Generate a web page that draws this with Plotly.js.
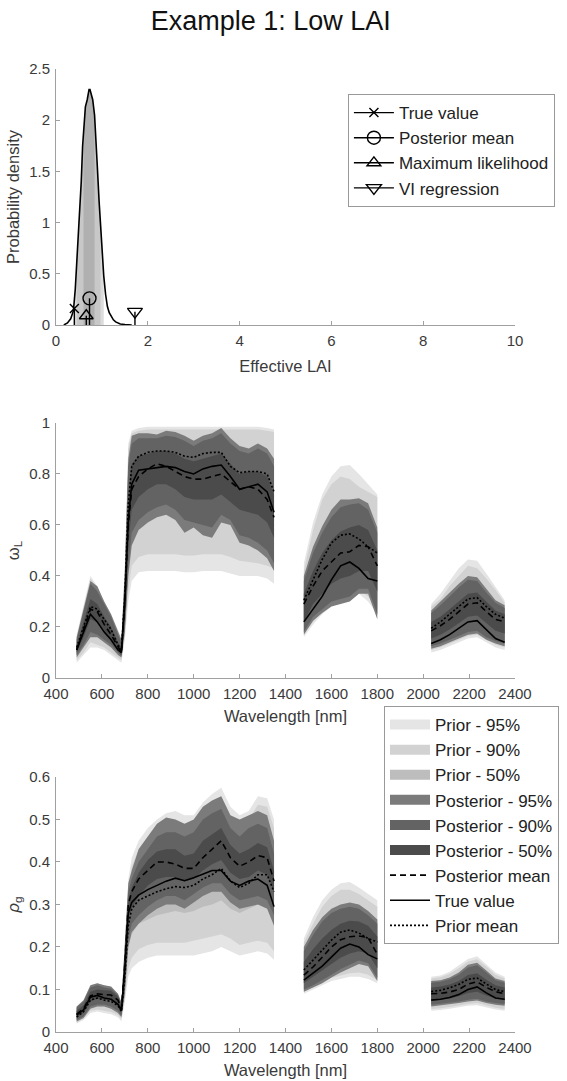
<!DOCTYPE html>
<html><head><meta charset="utf-8">
<script src="https://cdn.plot.ly/plotly-3.0.1.min.js"></script>
<style>html,body{margin:0;padding:0;background:#fff}#c{width:567px;height:1081px}</style>
</head><body><div id="c"></div>
<script>
// ---------- Top panel: posterior density of effective LAI ----------
const LAI_X = [0.17,0.25,0.32,0.38,0.42,0.45,0.48,0.51,0.55,0.58,0.6,0.62,0.64,0.68,0.72,0.74,0.77,0.8,0.84,0.86,0.9,0.94,0.97,1.0,1.04,1.08,1.12,1.16,1.21,1.25,1.3,1.4,1.5,1.65];
const LAI_PDF = [0,0.02,0.06,0.14,0.35,0.6,0.8,1.0,1.4,1.75,1.9,2.0,2.13,2.2,2.3,2.3,2.25,2.2,2.05,1.92,1.55,1.2,0.95,0.72,0.48,0.3,0.18,0.12,0.08,0.05,0.03,0.01,0.004,0];
const LAI_CI95 = [0.38,1.04];
const LAI_CI90 = [0.45,0.97];
const LAI_CI50 = [0.6,0.84];
const STEM_NAMES = ["True value","Posterior mean","Maximum likelihood","VI regression"];
const STEM_X = [0.40,0.73,0.66,1.72];
const STEM_H = [0.16,0.26,0.09,0.13];

// ---------- Spectral panels ----------
const WL = [490,520,550,580,610,640,670,685,700,715,730,760,800,840,880,920,960,1000,1040,1080,1120,1160,1200,1240,1280,1320,1350,null,
            1480,1520,1560,1600,1640,1680,1720,1760,1800,null,
            2035,2075,2115,2155,2195,2235,2275,2315,2355];

// omega_L
const W_TRUE = [0.11,0.18,0.25,0.22,0.18,0.15,0.11,0.10,0.30,0.62,0.76,0.815,0.82,0.825,0.83,0.825,0.81,0.80,0.82,0.83,0.835,0.79,0.74,0.75,0.76,0.73,0.65,null,
  0.22,0.27,0.32,0.385,0.44,0.455,0.43,0.39,0.38,null,
  0.135,0.15,0.17,0.195,0.22,0.225,0.19,0.155,0.14];
const W_POSTMEAN = [0.11,0.19,0.27,0.26,0.21,0.17,0.12,0.10,0.30,0.60,0.74,0.79,0.82,0.84,0.83,0.81,0.79,0.78,0.78,0.79,0.80,0.77,0.74,0.75,0.74,0.70,0.63,null,
  0.29,0.36,0.42,0.455,0.49,0.495,0.52,0.515,0.44,null,
  0.185,0.205,0.23,0.26,0.29,0.295,0.26,0.23,0.22];
const W_PRIORMEAN = [0.12,0.20,0.28,0.27,0.23,0.19,0.13,0.11,0.32,0.68,0.83,0.87,0.885,0.89,0.89,0.885,0.87,0.865,0.88,0.885,0.885,0.83,0.805,0.81,0.81,0.80,0.73,null,
  0.305,0.385,0.465,0.53,0.56,0.565,0.545,0.515,0.49,null,
  0.195,0.22,0.25,0.28,0.31,0.315,0.28,0.25,0.235];
const W_PRIOR95_U = [0.17,0.28,0.40,0.36,0.30,0.25,0.19,0.16,0.45,0.92,0.97,0.98,0.985,0.985,0.985,0.985,0.985,0.985,0.985,0.985,0.985,0.985,0.985,0.985,0.985,0.98,0.975,null,
  0.45,0.61,0.72,0.79,0.83,0.835,0.80,0.76,0.72,null,
  0.29,0.33,0.38,0.43,0.465,0.46,0.41,0.36,0.305];
const W_PRIOR95_L = [0.06,0.09,0.12,0.12,0.11,0.09,0.07,0.06,0.15,0.30,0.38,0.415,0.42,0.42,0.42,0.42,0.415,0.415,0.42,0.42,0.42,0.41,0.40,0.40,0.40,0.39,0.37,null,
  0.16,0.21,0.25,0.28,0.295,0.305,0.33,0.30,0.25,null,
  0.10,0.11,0.125,0.14,0.155,0.16,0.14,0.12,0.11];
const W_PRIOR90_U = [0.16,0.27,0.39,0.35,0.29,0.24,0.18,0.15,0.43,0.90,0.96,0.97,0.975,0.975,0.975,0.975,0.975,0.975,0.975,0.975,0.975,0.975,0.975,0.975,0.975,0.97,0.965,null,
  0.42,0.58,0.70,0.76,0.79,0.78,0.75,0.73,0.71,null,
  0.28,0.31,0.36,0.40,0.44,0.43,0.39,0.345,0.295];
const W_PRIOR90_L = [0.07,0.10,0.14,0.13,0.12,0.10,0.08,0.07,0.17,0.34,0.44,0.475,0.485,0.485,0.485,0.485,0.48,0.48,0.485,0.485,0.485,0.475,0.46,0.455,0.45,0.44,0.43,null,
  0.175,0.22,0.26,0.29,0.31,0.32,0.345,0.32,0.27,null,
  0.11,0.12,0.135,0.15,0.165,0.17,0.15,0.13,0.12];
const W_PRIOR50_U = [0.14,0.24,0.34,0.32,0.27,0.22,0.16,0.13,0.38,0.80,0.92,0.94,0.945,0.95,0.95,0.945,0.935,0.93,0.94,0.945,0.945,0.91,0.89,0.89,0.89,0.88,0.84,null,
  0.36,0.46,0.55,0.61,0.64,0.645,0.63,0.60,0.58,null,
  0.24,0.27,0.30,0.34,0.37,0.37,0.33,0.30,0.27];
const W_PRIOR50_L = [0.09,0.14,0.20,0.19,0.16,0.13,0.10,0.08,0.24,0.50,0.60,0.64,0.645,0.645,0.645,0.645,0.63,0.62,0.625,0.625,0.625,0.60,0.58,0.57,0.56,0.54,0.50,null,
  0.23,0.29,0.35,0.40,0.43,0.44,0.44,0.42,0.39,null,
  0.15,0.17,0.19,0.21,0.24,0.245,0.22,0.19,0.175];
const W_POST95_U = [0.16,0.27,0.38,0.36,0.30,0.25,0.18,0.15,0.42,0.86,0.95,0.96,0.96,0.955,0.97,0.965,0.95,0.93,0.95,0.96,0.98,0.94,0.91,0.90,0.92,0.90,0.86,null,
  0.40,0.515,0.595,0.66,0.70,0.70,0.705,0.685,0.59,null,
  0.265,0.30,0.335,0.37,0.40,0.395,0.35,0.305,0.285];
const W_POST95_L = [0.08,0.12,0.16,0.16,0.14,0.12,0.09,0.08,0.18,0.40,0.52,0.58,0.61,0.63,0.64,0.62,0.57,0.59,0.56,0.55,0.61,0.60,0.53,0.52,0.50,0.47,0.42,null,
  0.17,0.225,0.255,0.28,0.29,0.30,0.33,0.33,0.23,null,
  0.115,0.125,0.14,0.155,0.17,0.175,0.15,0.135,0.125];
const W_POST90_U = [0.15,0.26,0.37,0.34,0.29,0.24,0.17,0.14,0.40,0.83,0.92,0.94,0.94,0.94,0.95,0.945,0.93,0.91,0.93,0.94,0.96,0.92,0.89,0.88,0.90,0.88,0.83,null,
  0.38,0.49,0.57,0.63,0.67,0.68,0.685,0.66,0.57,null,
  0.255,0.285,0.32,0.355,0.385,0.38,0.335,0.295,0.275];
const W_POST90_L = [0.09,0.13,0.18,0.17,0.15,0.13,0.10,0.085,0.20,0.44,0.57,0.62,0.65,0.67,0.68,0.66,0.62,0.61,0.60,0.59,0.64,0.62,0.56,0.55,0.53,0.50,0.45,null,
  0.18,0.24,0.27,0.30,0.31,0.32,0.35,0.35,0.25,null,
  0.125,0.135,0.15,0.165,0.18,0.185,0.16,0.145,0.135];
const W_POST50_U = [0.13,0.22,0.31,0.29,0.24,0.20,0.14,0.12,0.34,0.72,0.84,0.87,0.88,0.89,0.89,0.88,0.86,0.85,0.86,0.87,0.88,0.84,0.80,0.81,0.81,0.79,0.72,null,
  0.33,0.42,0.49,0.54,0.575,0.59,0.60,0.58,0.50,null,
  0.22,0.24,0.27,0.30,0.33,0.335,0.30,0.265,0.25];
const W_POST50_L = [0.10,0.16,0.23,0.22,0.18,0.15,0.11,0.09,0.25,0.52,0.66,0.71,0.74,0.76,0.76,0.74,0.71,0.70,0.70,0.70,0.72,0.69,0.66,0.65,0.64,0.61,0.55,null,
  0.22,0.29,0.33,0.37,0.39,0.40,0.42,0.42,0.34,null,
  0.155,0.17,0.19,0.215,0.24,0.245,0.215,0.185,0.175];

// rho_g
const R_TRUE = [0.04,0.052,0.082,0.086,0.08,0.077,0.065,0.05,0.15,0.28,0.305,0.322,0.335,0.345,0.355,0.362,0.356,0.363,0.372,0.38,0.38,0.355,0.345,0.355,0.36,0.345,0.295,null,
  0.122,0.139,0.155,0.176,0.197,0.207,0.2,0.182,0.172,null,
  0.075,0.077,0.081,0.088,0.1,0.106,0.092,0.08,0.077];
const R_POSTMEAN = [0.042,0.055,0.085,0.09,0.088,0.087,0.075,0.055,0.16,0.30,0.33,0.36,0.38,0.40,0.40,0.395,0.385,0.385,0.41,0.43,0.45,0.41,0.39,0.40,0.415,0.41,0.355,null,
  0.134,0.153,0.176,0.2,0.217,0.224,0.226,0.222,0.183,null,
  0.09,0.091,0.094,0.1,0.113,0.118,0.105,0.095,0.09];
const R_PRIORMEAN = [0.035,0.048,0.075,0.08,0.075,0.072,0.062,0.048,0.13,0.25,0.29,0.31,0.32,0.33,0.337,0.342,0.34,0.345,0.36,0.37,0.385,0.355,0.34,0.35,0.37,0.37,0.33,null,
  0.146,0.17,0.193,0.216,0.235,0.24,0.233,0.22,0.212,null,
  0.095,0.098,0.104,0.112,0.124,0.127,0.113,0.1,0.095];
const R_PRIOR95_U = [0.06,0.075,0.11,0.115,0.11,0.105,0.09,0.07,0.20,0.36,0.41,0.45,0.48,0.50,0.515,0.52,0.51,0.51,0.54,0.56,0.575,0.53,0.51,0.52,0.555,0.55,0.50,null,
  0.22,0.27,0.31,0.335,0.35,0.353,0.34,0.325,0.31,null,
  0.13,0.133,0.142,0.156,0.172,0.178,0.16,0.14,0.13];
const R_PRIOR95_L = [0.02,0.028,0.045,0.048,0.045,0.042,0.035,0.025,0.07,0.13,0.15,0.165,0.175,0.18,0.18,0.18,0.18,0.18,0.185,0.19,0.20,0.19,0.18,0.185,0.19,0.185,0.17,null,
  0.09,0.10,0.11,0.12,0.125,0.13,0.13,0.125,0.115,null,
  0.05,0.052,0.055,0.058,0.062,0.063,0.058,0.053,0.05];
const R_PRIOR90_U = [0.058,0.072,0.105,0.11,0.105,0.10,0.085,0.067,0.19,0.34,0.39,0.43,0.46,0.48,0.495,0.50,0.49,0.49,0.52,0.54,0.555,0.51,0.49,0.50,0.535,0.53,0.48,null,
  0.21,0.255,0.295,0.32,0.335,0.335,0.325,0.31,0.295,null,
  0.126,0.129,0.137,0.15,0.166,0.171,0.154,0.135,0.126];
const R_PRIOR90_L = [0.022,0.032,0.05,0.053,0.05,0.047,0.04,0.03,0.08,0.15,0.175,0.195,0.205,0.21,0.21,0.21,0.21,0.215,0.22,0.225,0.23,0.22,0.205,0.21,0.215,0.21,0.19,null,
  0.095,0.105,0.117,0.127,0.133,0.138,0.14,0.135,0.122,null,
  0.054,0.056,0.059,0.062,0.066,0.068,0.062,0.057,0.054];
const R_PRIOR50_U = [0.045,0.058,0.09,0.095,0.09,0.085,0.072,0.055,0.16,0.29,0.33,0.36,0.375,0.385,0.39,0.395,0.39,0.395,0.41,0.42,0.435,0.40,0.385,0.40,0.42,0.415,0.375,null,
  0.18,0.215,0.245,0.27,0.285,0.29,0.28,0.27,0.26,null,
  0.11,0.113,0.12,0.13,0.143,0.148,0.133,0.118,0.11];
const R_PRIOR50_L = [0.03,0.04,0.06,0.065,0.062,0.06,0.05,0.038,0.10,0.20,0.23,0.255,0.265,0.275,0.28,0.285,0.28,0.285,0.295,0.30,0.31,0.29,0.28,0.29,0.30,0.295,0.265,null,
  0.115,0.13,0.145,0.16,0.17,0.175,0.175,0.17,0.16,null,
  0.07,0.072,0.076,0.082,0.09,0.093,0.084,0.075,0.07];
const R_POST95_U = [0.06,0.075,0.11,0.115,0.11,0.107,0.09,0.07,0.21,0.35,0.38,0.43,0.46,0.49,0.505,0.50,0.49,0.50,0.53,0.545,0.555,0.51,0.50,0.51,0.52,0.51,0.45,null,
  0.20,0.24,0.27,0.29,0.30,0.305,0.30,0.285,0.265,null,
  0.12,0.122,0.128,0.14,0.158,0.163,0.145,0.126,0.12];
const R_POST95_L = [0.025,0.033,0.055,0.06,0.06,0.055,0.045,0.035,0.09,0.20,0.235,0.255,0.275,0.29,0.30,0.30,0.29,0.305,0.32,0.33,0.33,0.305,0.29,0.295,0.30,0.29,0.25,null,
  0.095,0.105,0.115,0.128,0.14,0.15,0.16,0.155,0.12,null,
  0.06,0.062,0.065,0.068,0.072,0.074,0.068,0.064,0.062];
const R_POST90_U = [0.057,0.072,0.105,0.11,0.105,0.102,0.087,0.067,0.20,0.33,0.36,0.40,0.43,0.46,0.47,0.47,0.46,0.47,0.50,0.515,0.525,0.48,0.46,0.48,0.49,0.48,0.42,null,
  0.19,0.228,0.26,0.28,0.29,0.295,0.29,0.275,0.255,null,
  0.116,0.118,0.124,0.135,0.152,0.157,0.14,0.122,0.116];
const R_POST90_L = [0.028,0.037,0.06,0.065,0.065,0.06,0.05,0.038,0.10,0.22,0.255,0.275,0.295,0.31,0.32,0.32,0.31,0.325,0.34,0.35,0.35,0.325,0.31,0.315,0.32,0.31,0.275,null,
  0.10,0.11,0.122,0.135,0.148,0.158,0.168,0.162,0.127,null,
  0.064,0.066,0.069,0.072,0.076,0.078,0.072,0.068,0.066];
const R_POST50_U = [0.05,0.063,0.095,0.1,0.098,0.097,0.083,0.062,0.18,0.31,0.34,0.375,0.405,0.425,0.43,0.43,0.415,0.42,0.45,0.465,0.48,0.44,0.42,0.43,0.445,0.435,0.38,null,
  0.165,0.195,0.22,0.24,0.255,0.262,0.26,0.25,0.225,null,
  0.105,0.107,0.112,0.12,0.134,0.138,0.123,0.11,0.105];
const R_POST50_L = [0.035,0.045,0.072,0.078,0.076,0.075,0.063,0.047,0.13,0.27,0.29,0.32,0.345,0.36,0.365,0.365,0.355,0.36,0.38,0.395,0.405,0.375,0.36,0.365,0.38,0.37,0.33,null,
  0.115,0.13,0.145,0.16,0.175,0.185,0.19,0.185,0.15,null,
  0.074,0.076,0.079,0.084,0.092,0.095,0.086,0.079,0.075];

const BAND_NAMES = ["Prior - 95%","Prior - 90%","Prior - 50%","Posterior - 95%","Posterior - 90%","Posterior - 50%"];
const BAND_COLORS = ["#e5e5e5","#d2d2d2","#bdbdbd","#7b7b7b","#636363","#4b4b4b"];

// ---------- build ----------
function polygon(x, up, lo){
  const px=[], py=[]; let sx=[], su=[], sl=[];
  const flush=()=>{ if(!sx.length) return; if(px.length){px.push(null);py.push(null);}
    for(let i=0;i<sx.length;i++){px.push(sx[i]);py.push(su[i]);}
    for(let i=sx.length-1;i>=0;i--){px.push(sx[i]);py.push(sl[i]);}
    sx=[];su=[];sl=[]; };
  for(let i=0;i<x.length;i++){ if(x[i]===null){flush();continue;} sx.push(x[i]);su.push(up[i]);sl.push(lo[i]); }
  flush();
  return {x:px,y:py};
}
function pdfFill(lo,hi){
  const xs=[],ys=[];
  for(let i=0;i<LAI_X.length;i++) if(LAI_X[i]>=lo-1e-9 && LAI_X[i]<=hi+1e-9){xs.push(LAI_X[i]);ys.push(LAI_PDF[i]);}
  return {x:[xs[0]].concat(xs,[xs[xs.length-1]]), y:[0].concat(ys,[0])};
}

const traces=[];
[[LAI_CI95,"#dcdcdc"],[LAI_CI90,"#c8c8c8"],[LAI_CI50,"#b0b0b0"]].forEach(([ci,c])=>{
  const p=pdfFill(ci[0],ci[1]);
  traces.push({type:'scatter',mode:'lines',x:p.x,y:p.y,fill:'toself',fillcolor:c,line:{width:0},showlegend:false,hoverinfo:'skip',xaxis:'x',yaxis:'y'});
});
traces.push({type:'scatter',mode:'lines',x:LAI_X,y:LAI_PDF,line:{color:'#000',width:1.6},showlegend:false,xaxis:'x',yaxis:'y'});
const SYMS=['x-thin-open','circle-open','triangle-up-open','triangle-down-open'];
const SIZES=[9,13,12,13];
for(let i=0;i<4;i++){
  traces.push({type:'scatter',mode:'lines',x:[STEM_X[i],STEM_X[i]],y:[0,STEM_H[i]],line:{color:'#000',width:1.4},showlegend:false,xaxis:'x',yaxis:'y'});
  traces.push({type:'scatter',mode:'lines+markers',x:[STEM_X[i]],y:[STEM_H[i]],name:STEM_NAMES[i],
    line:{color:'#000',width:1.4},marker:{symbol:SYMS[i],size:SIZES[i],color:'#000',line:{color:'#000',width:1.4}},
    legend:'legend',xaxis:'x',yaxis:'y'});
}
function addPanel(ax, bands, lines, show){
  bands.forEach((b,i)=>{
    const p=polygon(WL,b[0],b[1]);
    traces.push({type:'scatter',mode:'lines',x:p.x,y:p.y,fill:'toself',fillcolor:BAND_COLORS[i],line:{width:0,color:BAND_COLORS[i]},
      name:BAND_NAMES[i],showlegend:false,hoverinfo:'skip',xaxis:'x'+ax,yaxis:'y'+ax});
    if(show){
      // legend swatch (large filled block) for the band
      traces.push({type:'scatter',mode:'lines',x:[null],y:[null],name:BAND_NAMES[i],line:{color:BAND_COLORS[i],width:17},
        showlegend:true,legend:'legend2',legendrank:i+1,hoverinfo:'skip',xaxis:'x'+ax,yaxis:'y'+ax});
    }
  });
  const styles=[['Posterior mean','6px,4px'],['True value','solid'],['Prior mean','2px,2px']];
  lines.forEach((l,i)=>{
    traces.push({type:'scatter',mode:'lines',x:WL,y:l,name:styles[i][0],line:{color:'#000',width:1.6,dash:styles[i][1]},
      connectgaps:false,showlegend:show,legend:'legend2',legendrank:10+i,xaxis:'x'+ax,yaxis:'y'+ax});
  });
}
addPanel(2,[[W_PRIOR95_U,W_PRIOR95_L],[W_PRIOR90_U,W_PRIOR90_L],[W_PRIOR50_U,W_PRIOR50_L],[W_POST95_U,W_POST95_L],[W_POST90_U,W_POST90_L],[W_POST50_U,W_POST50_L]],
  [W_POSTMEAN,W_TRUE,W_PRIORMEAN],false);
addPanel(3,[[R_PRIOR95_U,R_PRIOR95_L],[R_PRIOR90_U,R_PRIOR90_L],[R_PRIOR50_U,R_PRIOR50_L],[R_POST95_U,R_POST95_L],[R_POST90_U,R_POST90_L],[R_POST50_U,R_POST50_L]],
  [R_POSTMEAN,R_TRUE,R_PRIORMEAN],true);

const FAM='"Liberation Sans", Arial, sans-serif';
const TCOL='#3a3a3a';
function ax(extra){
  return Object.assign({showline:true,linecolor:'#a0a0a0',linewidth:1,ticks:'inside',ticklen:4,tickcolor:'#a0a0a0',
    showgrid:false,zeroline:false,ticklabelstandoff:2,tickfont:{family:FAM,size:15,color:TCOL},fixedrange:true},extra);
}
const TF={family:FAM,size:16.5,color:TCOL};
const layout={
  width:567,height:1081,paper_bgcolor:'#fff',plot_bgcolor:'rgba(0,0,0,0)',
  font:{family:FAM,size:15,color:TCOL},
  margin:{l:56,r:52,t:69,b:49,autoexpand:false},
  title:{text:'Example 1: Low LAI',font:{family:FAM,size:27,color:'#111'},xref:'paper',x:0.468,xanchor:'center',yref:'container',y:0.9806,yanchor:'middle'},
  xaxis:ax({domain:[0,1],range:[0,10],dtick:2,anchor:'y',title:{text:'Effective LAI',font:TF,standoff:12}}),
  yaxis:ax({domain:[0.7342,1],range:[0,2.5],dtick:0.5,anchor:'x',title:{text:'Probability density',font:TF,standoff:5}}),
  xaxis2:ax({domain:[0,1],range:[400,2400],dtick:200,anchor:'y2',title:{text:'Wavelength [nm]',font:TF,standoff:9}}),
  yaxis2:ax({domain:[0.3676,0.6324],range:[0,1],dtick:0.2,anchor:'x2',title:{text:'ω<sub>L</sub>',font:TF,standoff:5}}),
  xaxis3:ax({domain:[0,1],range:[400,2400],dtick:200,anchor:'y3',title:{text:'Wavelength [nm]',font:TF,standoff:9}}),
  yaxis3:ax({domain:[0,0.2648],range:[0,0.6],dtick:0.1,anchor:'x3',title:{text:'<i>ρ</i><sub>g</sub>',font:TF,standoff:5}}),
  legend:{x:0.636,xanchor:'left',y:0.974,yanchor:'top',bgcolor:'#fff',bordercolor:'#999',borderwidth:1,itemwidth:40,
    font:{family:FAM,size:17,color:'#222'},traceorder:'normal'},
  legend2:{x:0.7146,xanchor:'left',y:0.3385,yanchor:'top',bgcolor:'#fff',bordercolor:'#999',borderwidth:1,itemwidth:40,
    font:{family:FAM,size:17,color:'#222'},traceorder:'normal'},
  showlegend:true
};
Plotly.newPlot('c',traces,layout,{displayModeBar:false,staticPlot:true});
</script></body></html>
